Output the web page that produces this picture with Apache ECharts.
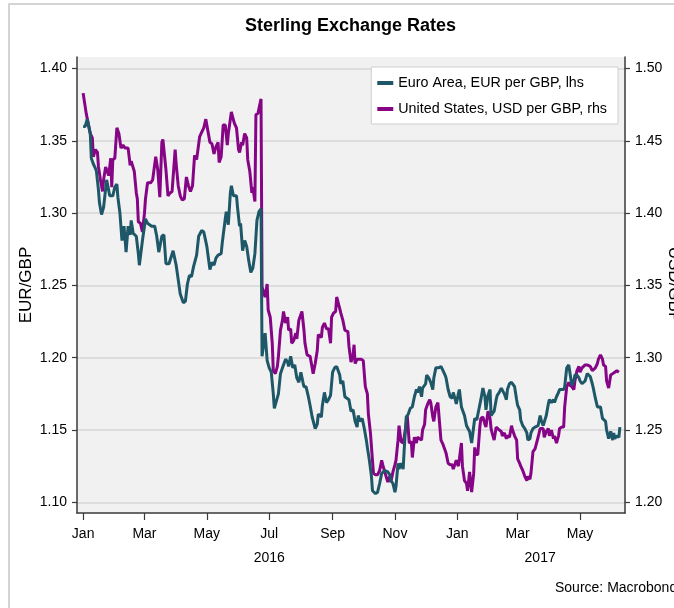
<!DOCTYPE html>
<html><head><meta charset="utf-8">
<script src="https://cdn.jsdelivr.net/npm/echarts@6/dist/echarts.min.js"></script>
<style>html,body{margin:0;padding:0;background:#fff}#c{width:674px;height:608px}</style>
</head><body><div id="c"></div><script>
const monthTicks = ['2016-01-01','2016-03-01','2016-05-01','2016-07-01','2016-09-01','2016-11-01','2017-01-01','2017-03-01','2017-05-01'];
const monthNames = ['Jan','Feb','Mar','Apr','May','Jun','Jul','Aug','Sep','Oct','Nov','Dec'];
const yearLabelDates = ['2016-07-01','2017-03-23'];
const xRange = ['2015-12-26','2017-06-14'];
const eurTicks = [1.10,1.15,1.20,1.25,1.30,1.35,1.40];
const usdTicks = [1.20,1.25,1.30,1.35,1.40,1.45,1.50];

const eurData = [
['2016-01-01',1.360],['2016-01-03',1.360],['2016-01-05',1.365],['2016-01-08',1.355],['2016-01-09',1.338],['2016-01-11',1.334],['2016-01-13',1.331],['2016-01-14',1.329],['2016-01-16',1.316],['2016-01-17',1.307],['2016-01-19',1.299],['2016-01-21',1.304],['2016-01-24',1.323],['2016-01-27',1.312],['2016-01-30',1.312],
['2016-02-01',1.318],['2016-02-03',1.320],['2016-02-04',1.311],['2016-02-06',1.300],['2016-02-08',1.281],['2016-02-10',1.291],['2016-02-12',1.273],['2016-02-14',1.291],['2016-02-16',1.285],['2016-02-17',1.295],['2016-02-19',1.286],['2016-02-22',1.284],['2016-02-24',1.272],['2016-02-25',1.264],['2016-02-28',1.281],
['2016-03-02',1.296],['2016-03-04',1.293],['2016-03-08',1.291],['2016-03-11',1.291],['2016-03-13',1.284],['2016-03-15',1.273],['2016-03-18',1.284],['2016-03-20',1.285],['2016-03-22',1.265],['2016-03-25',1.265],['2016-03-29',1.274],
['2016-04-01',1.264],['2016-04-03',1.254],['2016-04-05',1.244],['2016-04-08',1.238],['2016-04-10',1.239],['2016-04-12',1.251],['2016-04-14',1.257],['2016-04-16',1.256],['2016-04-18',1.263],['2016-04-21',1.271],['2016-04-23',1.284],['2016-04-26',1.288],['2016-04-28',1.287],
['2016-05-01',1.277],['2016-05-04',1.261],['2016-05-06',1.266],['2016-05-08',1.264],['2016-05-10',1.269],['2016-05-12',1.271],['2016-05-15',1.272],['2016-05-16',1.279],['2016-05-19',1.296],['2016-05-20',1.301],['2016-05-22',1.292],['2016-05-24',1.314],['2016-05-25',1.319],['2016-05-27',1.312],['2016-05-30',1.312],['2016-05-31',1.304],
['2016-06-02',1.291],['2016-06-03',1.293],['2016-06-05',1.274],['2016-06-07',1.281],['2016-06-09',1.277],['2016-06-11',1.267],['2016-06-13',1.259],['2016-06-15',1.262],['2016-06-17',1.272],['2016-06-19',1.295],['2016-06-21',1.301],['2016-06-23',1.303],['2016-06-24',1.201],['2016-06-27',1.217],['2016-06-29',1.198],
['2016-07-01',1.193],['2016-07-03',1.190],['2016-07-05',1.175],['2016-07-06',1.165],['2016-07-08',1.170],['2016-07-10',1.175],['2016-07-12',1.189],['2016-07-14',1.193],['2016-07-17',1.199],['2016-07-19',1.197],['2016-07-20',1.194],['2016-07-22',1.201],['2016-07-24',1.193],['2016-07-26',1.195],['2016-07-28',1.186],['2016-07-30',1.183],
['2016-08-01',1.190],['2016-08-03',1.183],['2016-08-04',1.180],['2016-08-06',1.180],['2016-08-08',1.174],['2016-08-10',1.167],['2016-08-12',1.159],['2016-08-15',1.151],['2016-08-17',1.154],['2016-08-18',1.161],['2016-08-21',1.159],['2016-08-22',1.167],['2016-08-24',1.176],['2016-08-26',1.169],['2016-08-28',1.171],['2016-08-30',1.174],
['2016-09-01',1.190],['2016-09-03',1.193],['2016-09-05',1.194],['2016-09-08',1.188],['2016-09-09',1.182],['2016-09-11',1.184],['2016-09-13',1.173],['2016-09-15',1.172],['2016-09-17',1.171],['2016-09-19',1.163],['2016-09-21',1.164],['2016-09-23',1.156],['2016-09-25',1.152],['2016-09-26',1.160],['2016-09-28',1.156],['2016-09-30',1.158],
['2016-10-02',1.151],['2016-10-04',1.143],['2016-10-05',1.138],['2016-10-07',1.129],['2016-10-09',1.118],['2016-10-10',1.108],['2016-10-13',1.106],['2016-10-15',1.107],['2016-10-17',1.113],['2016-10-19',1.120],['2016-10-20',1.121],['2016-10-22',1.122],['2016-10-23',1.122],['2016-10-25',1.121],['2016-10-27',1.119],['2016-10-28',1.115],['2016-10-30',1.113],
['2016-11-01',1.107],['2016-11-02',1.111],['2016-11-04',1.127],['2016-11-05',1.123],['2016-11-07',1.127],['2016-11-09',1.123],['2016-11-10',1.136],['2016-11-12',1.159],['2016-11-14',1.161],['2016-11-16',1.165],['2016-11-18',1.166],['2016-11-20',1.173],['2016-11-22',1.178],['2016-11-23',1.176],['2016-11-25',1.180],['2016-11-27',1.173],['2016-11-28',1.179],
['2016-12-01',1.182],['2016-12-02',1.188],['2016-12-04',1.186],['2016-12-06',1.183],['2016-12-08',1.178],['2016-12-09',1.186],['2016-12-11',1.193],['2016-12-12',1.194],['2016-12-14',1.193],['2016-12-16',1.194],['2016-12-18',1.191],['2016-12-20',1.188],['2016-12-21',1.186],['2016-12-23',1.178],['2016-12-25',1.173],['2016-12-27',1.172],['2016-12-28',1.176],['2016-12-30',1.171],['2016-12-31',1.168],
['2017-01-02',1.175],['2017-01-03',1.178],['2017-01-05',1.166],['2017-01-06',1.165],['2017-01-08',1.160],['2017-01-10',1.153],['2017-01-11',1.152],['2017-01-13',1.149],['2017-01-15',1.141],['2017-01-16',1.140],['2017-01-18',1.158],['2017-01-20',1.157],['2017-01-22',1.164],['2017-01-24',1.171],['2017-01-26',1.179],['2017-01-28',1.173],['2017-01-29',1.164],['2017-01-31',1.174],
['2017-02-02',1.178],['2017-02-03',1.160],['2017-02-04',1.159],['2017-02-06',1.163],['2017-02-08',1.171],['2017-02-09',1.174],['2017-02-11',1.176],['2017-02-13',1.179],['2017-02-14',1.180],['2017-02-16',1.175],['2017-02-18',1.171],['2017-02-19',1.178],['2017-02-21',1.182],['2017-02-23',1.183],['2017-02-24',1.183],['2017-02-26',1.180],['2017-02-28',1.171],
['2017-03-01',1.167],['2017-03-03',1.164],['2017-03-04',1.157],['2017-03-06',1.153],['2017-03-08',1.151],['2017-03-10',1.148],['2017-03-11',1.143],['2017-03-13',1.144],['2017-03-14',1.148],['2017-03-16',1.151],['2017-03-18',1.152],['2017-03-19',1.151],['2017-03-21',1.153],['2017-03-23',1.160],['2017-03-24',1.157],['2017-03-26',1.153],['2017-03-27',1.153],['2017-03-29',1.160],['2017-03-31',1.168],
['2017-04-01',1.171],['2017-04-03',1.169],['2017-04-05',1.171],['2017-04-06',1.169],['2017-04-08',1.173],['2017-04-10',1.176],['2017-04-11',1.178],['2017-04-13',1.178],['2017-04-15',1.178],['2017-04-16',1.180],['2017-04-18',1.193],['2017-04-20',1.195],['2017-04-21',1.195],['2017-04-23',1.181],['2017-04-25',1.184],['2017-04-26',1.188],['2017-04-28',1.188],['2017-04-30',1.186],
['2017-05-01',1.184],['2017-05-03',1.182],['2017-05-04',1.181],['2017-05-06',1.184],['2017-05-08',1.189],['2017-05-09',1.188],['2017-05-11',1.187],['2017-05-13',1.182],['2017-05-14',1.179],['2017-05-16',1.172],['2017-05-18',1.166],['2017-05-19',1.165],['2017-05-21',1.166],['2017-05-23',1.158],['2017-05-24',1.157],['2017-05-26',1.156],['2017-05-27',1.150],['2017-05-29',1.144],['2017-05-31',1.149],
['2017-06-02',1.143],['2017-06-03',1.148],['2017-06-04',1.144],['2017-06-06',1.146],['2017-06-08',1.145],['2017-06-09',1.152]
];

const usdData = [
['2016-01-01',1.483],['2016-01-02',1.482],['2016-01-04',1.469],['2016-01-06',1.462],['2016-01-08',1.455],['2016-01-10',1.452],['2016-01-11',1.439],['2016-01-13',1.444],['2016-01-15',1.442],['2016-01-16',1.432],['2016-01-18',1.423],['2016-01-20',1.415],['2016-01-21',1.423],['2016-01-23',1.432],['2016-01-24',1.431],['2016-01-26',1.426],['2016-01-28',1.438],['2016-01-29',1.418],['2016-01-30',1.437],
['2016-02-01',1.438],['2016-02-03',1.459],['2016-02-05',1.455],['2016-02-07',1.445],['2016-02-09',1.447],['2016-02-11',1.445],['2016-02-14',1.445],['2016-02-16',1.433],['2016-02-17',1.436],['2016-02-20',1.429],['2016-02-22',1.414],['2016-02-23',1.410],['2016-02-24',1.394],['2016-02-26',1.393],['2016-02-28',1.387],
['2016-03-01',1.400],['2016-03-02',1.410],['2016-03-04',1.421],['2016-03-07',1.421],['2016-03-09',1.423],['2016-03-12',1.439],['2016-03-14',1.430],['2016-03-16',1.411],['2016-03-18',1.449],['2016-03-19',1.451],['2016-03-22',1.430],['2016-03-24',1.412],['2016-03-26',1.414],['2016-03-28',1.415],['2016-03-31',1.444],
['2016-04-01',1.434],['2016-04-03',1.419],['2016-04-05',1.412],['2016-04-07',1.409],['2016-04-09',1.410],['2016-04-11',1.425],['2016-04-13',1.419],['2016-04-15',1.415],['2016-04-17',1.419],['2016-04-19',1.440],['2016-04-21',1.437],['2016-04-24',1.453],['2016-04-26',1.456],['2016-04-28',1.459],['2016-04-30',1.465],
['2016-05-02',1.457],['2016-05-04',1.449],['2016-05-06',1.448],['2016-05-08',1.441],['2016-05-10',1.446],['2016-05-12',1.449],['2016-05-13',1.435],['2016-05-15',1.439],['2016-05-17',1.461],['2016-05-19',1.461],['2016-05-21',1.447],['2016-05-22',1.455],['2016-05-25',1.470],['2016-05-26',1.467],['2016-05-28',1.462],['2016-05-30',1.459],
['2016-06-01',1.444],['2016-06-02',1.442],['2016-06-04',1.449],['2016-06-05',1.447],['2016-06-07',1.455],['2016-06-09',1.452],['2016-06-10',1.437],['2016-06-12',1.429],['2016-06-14',1.414],['2016-06-15',1.418],['2016-06-17',1.408],['2016-06-18',1.468],['2016-06-20',1.469],['2016-06-21',1.469],['2016-06-23',1.479],['2016-06-24',1.349],['2016-06-27',1.342],['2016-06-29',1.351],['2016-06-30',1.333],
['2016-07-02',1.328],['2016-07-04',1.310],['2016-07-05',1.291],['2016-07-07',1.289],['2016-07-09',1.294],['2016-07-10',1.301],['2016-07-12',1.319],['2016-07-14',1.326],['2016-07-15',1.332],['2016-07-17',1.324],['2016-07-19',1.328],['2016-07-20',1.319],['2016-07-22',1.320],['2016-07-23',1.310],['2016-07-25',1.312],['2016-07-27',1.317],['2016-07-28',1.313],['2016-07-30',1.326],['2016-07-31',1.325],
['2016-08-02',1.332],['2016-08-04',1.319],['2016-08-05',1.310],['2016-08-07',1.302],['2016-08-10',1.301],['2016-08-11',1.297],['2016-08-13',1.289],['2016-08-15',1.296],['2016-08-17',1.305],['2016-08-18',1.316],['2016-08-21',1.314],['2016-08-22',1.321],['2016-08-24',1.324],['2016-08-26',1.320],['2016-08-28',1.320],['2016-08-30',1.310],['2016-08-31',1.328],
['2016-09-02',1.331],['2016-09-04',1.332],['2016-09-05',1.342],['2016-09-08',1.334],['2016-09-09',1.331],['2016-09-11',1.326],['2016-09-13',1.319],['2016-09-14',1.318],['2016-09-16',1.318],['2016-09-17',1.308],['2016-09-19',1.297],['2016-09-21',1.302],['2016-09-22',1.309],['2016-09-23',1.296],['2016-09-25',1.299],['2016-09-27',1.299],['2016-09-29',1.299],
['2016-10-01',1.298],['2016-10-03',1.280],['2016-10-05',1.275],['2016-10-06',1.261],['2016-10-08',1.248],['2016-10-10',1.229],['2016-10-11',1.220],['2016-10-13',1.219],['2016-10-15',1.219],['2016-10-17',1.222],['2016-10-19',1.229],['2016-10-20',1.226],['2016-10-22',1.221],['2016-10-23',1.222],['2016-10-25',1.214],['2016-10-27',1.218],['2016-10-28',1.214],['2016-10-30',1.221],
['2016-11-01',1.226],['2016-11-02',1.229],['2016-11-04',1.243],['2016-11-05',1.253],['2016-11-07',1.242],['2016-11-09',1.241],['2016-11-10',1.245],['2016-11-12',1.254],['2016-11-13',1.260],['2016-11-15',1.241],['2016-11-17',1.242],['2016-11-18',1.231],['2016-11-20',1.245],['2016-11-22',1.241],['2016-11-23',1.245],['2016-11-25',1.244],['2016-11-27',1.243],['2016-11-28',1.250],['2016-11-30',1.254],
['2016-12-01',1.264],['2016-12-03',1.268],['2016-12-05',1.271],['2016-12-06',1.269],['2016-12-08',1.259],['2016-12-09',1.256],['2016-12-11',1.266],['2016-12-13',1.269],['2016-12-14',1.269],['2016-12-16',1.243],['2016-12-18',1.240],['2016-12-20',1.236],['2016-12-21',1.234],['2016-12-23',1.227],['2016-12-25',1.226],['2016-12-27',1.226],['2016-12-28',1.223],['2016-12-30',1.227],['2016-12-31',1.229],
['2017-01-02',1.225],['2017-01-03',1.230],['2017-01-05',1.241],['2017-01-06',1.225],['2017-01-08',1.215],['2017-01-10',1.213],['2017-01-11',1.208],['2017-01-13',1.221],['2017-01-15',1.207],['2017-01-16',1.208],['2017-01-17',1.220],['2017-01-18',1.238],['2017-01-19',1.233],['2017-01-21',1.233],['2017-01-23',1.252],['2017-01-24',1.258],['2017-01-26',1.259],['2017-01-28',1.254],['2017-01-29',1.252],['2017-01-31',1.263],
['2017-02-02',1.258],['2017-02-03',1.251],['2017-02-04',1.248],['2017-02-06',1.243],['2017-02-08',1.252],['2017-02-09',1.253],['2017-02-11',1.250],['2017-02-13',1.249],['2017-02-14',1.246],['2017-02-16',1.248],['2017-02-18',1.244],['2017-02-19',1.246],['2017-02-21',1.245],['2017-02-23',1.253],['2017-02-24',1.250],['2017-02-26',1.246],['2017-02-28',1.243],
['2017-03-01',1.230],['2017-03-03',1.227],['2017-03-04',1.225],['2017-03-06',1.222],['2017-03-08',1.218],['2017-03-10',1.215],['2017-03-11',1.218],['2017-03-13',1.216],['2017-03-14',1.220],['2017-03-16',1.235],['2017-03-18',1.237],['2017-03-19',1.238],['2017-03-21',1.245],['2017-03-23',1.251],['2017-03-24',1.252],['2017-03-26',1.251],['2017-03-27',1.245],['2017-03-29',1.249],['2017-03-31',1.251],
['2017-04-01',1.246],['2017-04-03',1.250],['2017-04-05',1.244],['2017-04-06',1.246],['2017-04-08',1.241],['2017-04-10',1.246],['2017-04-11',1.251],['2017-04-13',1.252],['2017-04-15',1.252],['2017-04-16',1.266],['2017-04-18',1.280],['2017-04-20',1.283],['2017-04-21',1.281],['2017-04-23',1.280],['2017-04-25',1.278],['2017-04-26',1.284],['2017-04-28',1.291],['2017-04-30',1.294],
['2017-05-01',1.290],['2017-05-03',1.293],['2017-05-04',1.294],['2017-05-06',1.295],['2017-05-08',1.295],['2017-05-09',1.295],['2017-05-11',1.294],['2017-05-13',1.291],['2017-05-14',1.290],['2017-05-16',1.293],['2017-05-18',1.296],['2017-05-19',1.299],['2017-05-21',1.302],['2017-05-23',1.299],['2017-05-24',1.295],['2017-05-26',1.294],['2017-05-27',1.284],['2017-05-29',1.279],['2017-05-31',1.288],
['2017-06-02',1.289],['2017-06-03',1.290],['2017-06-04',1.290],['2017-06-06',1.291],['2017-06-08',1.290]
];

const FONT = '"Liberation Sans", Arial, sans-serif';
const AXIS_COLOR = '#3a3a3a';
const TEAL = '#1e5767';
const PURPLE = '#860486';

function day(s) { return Date.parse(s + 'T00:00:00Z'); }
function toPoints(arr) { return arr.map(function (p) { return [day(p[0]), p[1]]; }); }
const monthTickVals = monthTicks.map(day);
const yearTickVals = yearLabelDates.map(day);

const chart = echarts.init(document.getElementById('c'), null, {renderer: 'canvas'});
chart.setOption({
  animation: false,
  textStyle: {fontFamily: FONT, color: '#000'},
  graphic: [{
    type: 'rect', silent: true, z: -10,
    shape: {x: 9, y: 4, width: 720, height: 720},
    style: {fill: 'none', stroke: '#d4d4d4', lineWidth: 2}
  }],
  title: [
    {text: 'Sterling Exchange Rates', left: 240, top: 12,
     textStyle: {fontFamily: FONT, fontSize: 18, fontWeight: 'bold', color: '#000'}},
    {text: 'Source: Macrobond', left: 550, top: 576,
     textStyle: {fontFamily: FONT, fontSize: 14, fontWeight: 'normal', color: '#000'}}
  ],
  legend: {
    orient: 'vertical', right: 56, top: 67,
    backgroundColor: '#fff', borderColor: '#cfcfcf', borderWidth: 1,
    padding: [8, 11, 7, 6], itemGap: 10, itemWidth: 16, itemHeight: 4, icon: 'rect',
    textStyle: {fontFamily: FONT, fontSize: 14.3, color: '#000', lineHeight: 16}
  },
  grid: [
    {left: 77, right: 49, top: 57, bottom: 95, show: true, backgroundColor: '#f1f1f1', borderWidth: 0,
     containLabel: false, outerBoundsMode: 'none'},
    {left: 77, right: 49, top: 57, bottom: 95, show: false, containLabel: false, outerBoundsMode: 'none'}
  ],
  xAxis: [
    {type: 'value', gridIndex: 0, min: day(xRange[0]), max: day(xRange[1]),
     axisLine: {show: true, onZero: false, lineStyle: {color: AXIS_COLOR, width: 1.5}},
     axisTick: {show: true, length: 7, inside: false, customValues: monthTickVals, lineStyle: {color: AXIS_COLOR, width: 1.2}},
     axisLabel: {customValues: monthTickVals, margin: 14, fontSize: 14, fontFamily: FONT, color: '#000', hideOverlap: false,
       formatter: function (v) { return monthNames[new Date(v).getUTCMonth()]; }},
     splitLine: {show: false}},
    {type: 'value', gridIndex: 1, min: day(xRange[0]), max: day(xRange[1]), position: 'bottom',
     axisLine: {show: false, onZero: false}, axisTick: {show: false}, splitLine: {show: false},
     axisLabel: {customValues: yearTickVals, margin: 38, fontSize: 14, fontFamily: FONT, color: '#000', hideOverlap: false,
       formatter: function (v) { return String(new Date(v).getUTCFullYear()); }}}
  ],
  yAxis: [
    {type: 'value', gridIndex: 0, position: 'left', min: 1.0926, max: 1.408,
     name: 'EUR/GBP', nameLocation: 'middle', nameGap: 42, nameMoveOverlap: false,
     nameTextStyle: {fontFamily: FONT, fontSize: 17, color: '#000'},
     axisLine: {show: true, onZero: false, lineStyle: {color: AXIS_COLOR, width: 1.5}},
     axisTick: {show: true, length: 5, inside: false, customValues: eurTicks, lineStyle: {color: AXIS_COLOR, width: 1.2}},
     axisLabel: {customValues: eurTicks, margin: 10, fontSize: 14, fontFamily: FONT, color: '#000',
       formatter: function (v) { return v.toFixed(2); }},
     splitLine: {show: true, lineStyle: {color: '#d6d6d6', width: 1.5}}},
    {type: 'value', gridIndex: 0, position: 'right', min: 1.1926, max: 1.508,
     name: 'USD/GBP', nameLocation: 'middle', nameGap: 40, nameRotate: -90, nameMoveOverlap: false,
     nameTextStyle: {fontFamily: FONT, fontSize: 17, color: '#000'},
     axisLine: {show: true, onZero: false, lineStyle: {color: AXIS_COLOR, width: 1.5}},
     axisTick: {show: true, length: 5, inside: false, customValues: usdTicks, lineStyle: {color: AXIS_COLOR, width: 1.2}},
     axisLabel: {customValues: usdTicks, margin: 10, fontSize: 14, fontFamily: FONT, color: '#000',
       formatter: function (v) { return v.toFixed(2); }},
     splitLine: {show: false}},
    {type: 'value', gridIndex: 1, show: false, min: 0, max: 1}
  ],
  series: [
    {name: 'Euro Area, EUR per GBP, lhs', type: 'line', xAxisIndex: 0, yAxisIndex: 0,
     data: toPoints(eurData), showSymbol: false, symbol: 'none', color: TEAL,
     lineStyle: {color: TEAL, width: 3}, z: 3},
    {name: 'United States, USD per GBP, rhs', type: 'line', xAxisIndex: 0, yAxisIndex: 1,
     data: toPoints(usdData), showSymbol: false, symbol: 'none', color: PURPLE,
     lineStyle: {color: PURPLE, width: 3}, z: 2}
  ]
});
</script></body></html>
